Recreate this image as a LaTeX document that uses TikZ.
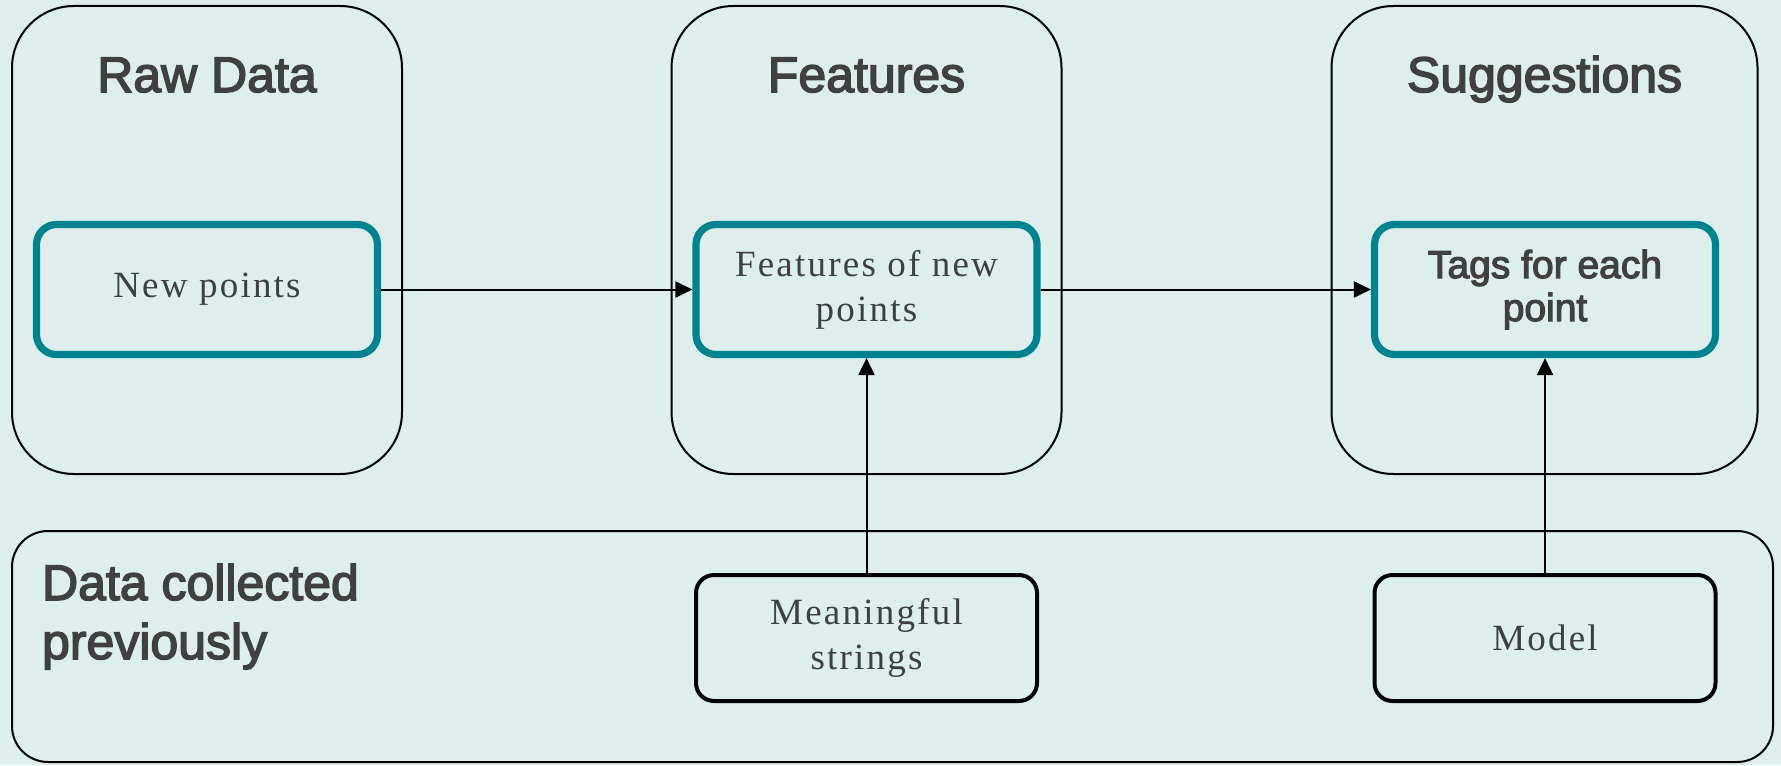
\documentclass[tikz,border=0pt]{standalone}
\usepackage{fontspec}
\setmainfont{Liberation Sans}
\newfontfamily\headsans[FakeBold=3]{Liberation Sans}
\newfontfamily\bodyserif[LetterSpace=6]{Liberation Serif}
\usetikzlibrary{arrows.meta}
\definecolor{bgteal}{HTML}{DDEEED}
\definecolor{boxteal}{HTML}{00838F}
\definecolor{inkgray}{HTML}{404040}

\begin{document}
\begin{tikzpicture}[x=0.5pt,y=-0.5pt,
  panel/.style={draw=black, line width=1pt, rounded corners=31pt, minimum height=234pt, inner sep=0pt},
  tealbox/.style={draw=boxteal, line width=3.6pt, rounded corners=10pt, minimum width=170.5pt, minimum height=65pt, align=center, text=inkgray},
  darkbox/.style={draw=black, line width=2pt, rounded corners=9pt, minimum width=170.5pt, minimum height=63pt, align=center, text=inkgray},
  serifbody/.style={font=\bodyserif\fontsize{18.5pt}{22.5pt}\selectfont},
  sansbody/.style={font=\headsans\fontsize{19.5pt}{21.5pt}\selectfont},
  heading/.style={font=\headsans\fontsize{25pt}{29.5pt}\selectfont, text=inkgray, anchor=base},
  flow/.style={-{Triangle[length=8.5pt,width=8pt]}, line width=1pt}
]
% background
\fill[bgteal] (0,0) rectangle (1781,765);
\useasboundingbox (0,0) rectangle (1781,765);

% stage panels
\node[panel, minimum width=195pt] (rawpanel) at (207,240) {};
\node[panel, minimum width=195pt] (featpanel) at (866.5,240) {};
\node[panel, minimum width=213pt] (sugpanel) at (1544.5,240) {};
\node[draw=black, line width=1pt, rounded corners=18pt, minimum width=880.5pt, minimum height=115.5pt, inner sep=0pt] (prevpanel) at (892.5,646.5) {};

% panel headings
\node[heading] (rawtitle) at (207,92) {Raw Data};
\node[heading] (feattitle) at (866.5,92) {Features};
\node[heading] (sugtitle) at (1544.5,92) {Suggestions};
\node[heading, anchor=base west, align=left] (prevtitle) at (35,659) {Data collected\\previously};

% process boxes
\node[tealbox, serifbody] (newpts) at (207,289.5) {New points};
\node[tealbox, serifbody] (featnew) at (866.5,289.5) {Features of new\\points};
\node[tealbox, sansbody] (tags) at (1545,289.5) {Tags for each\\point};
\node[darkbox, serifbody] (strings) at (866.5,638) {Meaningful\\strings};
\node[darkbox, serifbody] (model) at (1545,638) {Model};

% connectors
\draw[flow] (newpts) -- (featnew);
\draw[flow] (featnew) -- (tags);
\draw[flow] (strings) -- (featnew);
\draw[flow] (model) -- (tags);
\end{tikzpicture}
\end{document}
